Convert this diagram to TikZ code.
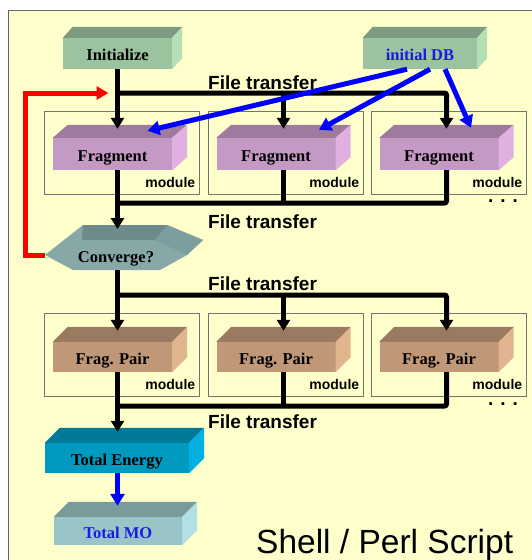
\documentclass[tikz,border=0pt]{standalone}
\usepackage{fontspec}
\setmainfont{Liberation Serif}
\setsansfont{Liberation Sans}
\usetikzlibrary{arrows.meta,calc}
\definecolor{slideYellow}{HTML}{FFFFCC}
\definecolor{frontinit}{HTML}{9BC3A0}
\definecolor{topinit}{HTML}{7D9B80}
\definecolor{sideinit}{HTML}{B2E0B4}
\definecolor{frontfrag}{HTML}{C499C4}
\definecolor{topfrag}{HTML}{9E7A9E}
\definecolor{sidefrag}{HTML}{E0B0E0}
\definecolor{frontpair}{HTML}{C09878}
\definecolor{toppair}{HTML}{9A7A60}
\definecolor{sidepair}{HTML}{E0B48C}
\definecolor{frontconv}{HTML}{88A8A8}
\definecolor{topconv}{HTML}{6E8A8A}
\definecolor{sideconv}{HTML}{7D9E9E}
\definecolor{frontenergy}{HTML}{0099C0}
\definecolor{topenergy}{HTML}{007A99}
\definecolor{sideenergy}{HTML}{00B0E0}
\definecolor{frontmo}{HTML}{99C4C8}
\definecolor{topmo}{HTML}{7A9B9B}
\definecolor{sidemo}{HTML}{B2E0E4}
\definecolor{dbBlue}{HTML}{1A1AE6}

\begin{document}
\begin{tikzpicture}[
    x=1pt, y=-1pt,
    boxfont/.style={font=\fontsize{16.5}{18}\selectfont\bfseries, text height=14pt, text depth=0pt},
    block/.style={fill=#1, minimum height=31pt, inner sep=0pt, boxfont},
    module/.style={draw=black!55, line width=0.8pt, minimum width=155pt, minimum height=83pt,
        label={[anchor=south east, inner xsep=4pt, inner ysep=0pt, yshift=7pt, font=\sffamily\bfseries\fontsize{14}{16}\selectfont]south east:module}},
    transfer/.style={anchor=base west, inner sep=0pt, font=\sffamily\bfseries\fontsize{19}{22}\selectfont},
    dots/.style={anchor=base, inner sep=0pt, font=\sffamily\bfseries\fontsize{19}{19}\selectfont},
    bus/.style={line width=5pt, rounded corners=2pt},
    busarrow/.style={bus, -{Triangle[width=13pt,length=11pt]}},
    dbline/.style={line width=5pt, blue, -{Triangle[width=14pt,length=12pt]}},
    loopline/.style={line width=5pt, red, -{Triangle[width=13pt,length=12pt]}}
]

\useasboundingbox (0,0) rectangle (532,560);
\fill[slideYellow] (8,10) rectangle (532,560);
\draw[black!60, line width=1pt] (532,10) -- (8,10) -- (8,560);

% module frames
\node[module] (modfrag1) at (121.5,153) {};
\node[module] (modfrag2) at (285.5,153) {};
\node[module] (modfrag3) at (448.5,153) {};
\node[module] (modpair1) at (121.5,355) {};
\node[module] (modpair2) at (285.5,355) {};
\node[module] (modpair3) at (448.5,355) {};

% converge prism
\fill[frontconv] (45,255) -- (83,225) -- (167,225) -- (203,240) -- (187,255) -- (160,270) -- (73,270) -- cycle;
\fill[topconv] (83,225) -- (167,225) -- (155,240) -- (82,240) -- cycle;
\fill[sideconv] (167,225) -- (203,240) -- (187,255) -- (155,240) -- cycle;
\node[boxfont, inner sep=0pt, minimum width=142pt, minimum height=30pt] (conv) at (116,255) {Converge?};
\coordinate (conv-top) at (117.5,229);

% boxes
\node[block=frontinit, minimum width=109pt] (init) at (117.5,53.5) {Initialize};
\node[block=frontinit, minimum width=114pt, text=dbBlue] (db) at (420,53.5) {initial DB};
\node[block=frontfrag, minimum width=119pt, minimum height=32pt] (frag1) at (112.5,154) {Fragment};
\node[block=frontfrag, minimum width=119pt, minimum height=32pt] (frag2) at (276,154) {Fragment};
\node[block=frontfrag, minimum width=119pt, minimum height=32pt] (frag3) at (439,154) {Fragment};
\node[block=frontpair, minimum width=119pt, minimum height=30pt] (pair1) at (112.5,357) {Frag. Pair};
\node[block=frontpair, minimum width=119pt, minimum height=30pt] (pair2) at (276,357) {Frag. Pair};
\node[block=frontpair, minimum width=119pt, minimum height=30pt] (pair3) at (439,357) {Frag. Pair};
\node[block=frontenergy, minimum width=144pt, minimum height=30pt] (energy) at (117,458) {Total Energy};
\node[block=frontmo, minimum width=128pt, minimum height=28pt, text=dbBlue] (mo) at (118,531) {Total MO};

% top and side faces
\foreach \n/\col/\dx/\dy in {init/init/10/11, db/init/10/11,
    frag1/frag/15/13, frag2/frag/15/13, frag3/frag/15/13,
    pair1/pair/15/15, pair2/pair/15/15, pair3/pair/15/15,
    energy/energy/15/15, mo/mo/15/15} {
  \fill[top\col] (\n.north west) -- ++(\dx,-\dy) -- ($(\n.north east)+(\dx,-\dy)$) -- (\n.north east) -- cycle;
  \fill[side\col] (\n.north east) -- ++(\dx,-\dy) -- ($(\n.south east)+(\dx,-\dy)$) -- (\n.south east) -- cycle;
  \coordinate (\n-top) at ($(\n.north)+(\dx/2,-\dy+4)$);
}

% file transfer buses
\coordinate (bus1) at (117.5,93);
\coordinate (bus2) at (117.5,203);
\coordinate (bus3) at (117.5,295);
\coordinate (bus4) at (117.5,406);

\draw[busarrow] (init.south) -- (init.south |- frag1-top);
\draw[busarrow] (bus1) -| (frag3-top);
\draw[busarrow] (bus1 -| frag2-top) -- (frag2-top);

\draw[busarrow] (init.south |- frag1.south) -- (conv-top);
\draw[bus] (frag3-top |- frag3.south) |- (bus2);
\draw[bus] (frag2-top |- frag2.south) -- (frag2-top |- bus2);

\draw[busarrow] (init.south |- conv.south) -- (init.south |- pair1-top);
\draw[busarrow] (bus3) -| (pair3-top);
\draw[busarrow] (bus3 -| pair2-top) -- (pair2-top);

\draw[busarrow] (init.south |- pair1.south) -- (init.south |- energy-top);
\draw[bus] (pair3-top |- pair3.south) |- (bus4);
\draw[bus] (pair2-top |- pair2.south) -- (pair2-top |- bus4);

% database and result
\draw[dbline] ($(db.south)+(-13,0)$) -- ($(frag1.north)+(35,-7)$);
\draw[dbline] ($(db.south)+(10,0)$) -- ($(frag2.north)+(43,-8)$);
\draw[dbline] ($(db.south)+(25,0)$) -- ($(frag3.north)+(32,-10)$);
\draw[dbline] (energy.south -| init.south) -- (init.south |- mo-top);

% iteration loop
\draw[loopline] (conv.west) -| ($(bus1)+(-92,0)$) -- ($(bus1)+(-9,0)$);

\node[transfer] (ft1) at (208,89) {File transfer};
\node[transfer] (ft2) at (208,228) {File transfer};
\node[transfer] (ft3) at (208,290) {File transfer};
\node[transfer] (ft4) at (208,428) {File transfer};
\node[dots] (more1) at (503,202) {. . .};
\node[dots] (more2) at (503,405) {. . .};
\node[anchor=base west, inner sep=0pt, font=\sffamily\fontsize{33.5}{36}\selectfont] (title) at (256,553) {Shell / Perl Script};

\end{tikzpicture}
\end{document}
